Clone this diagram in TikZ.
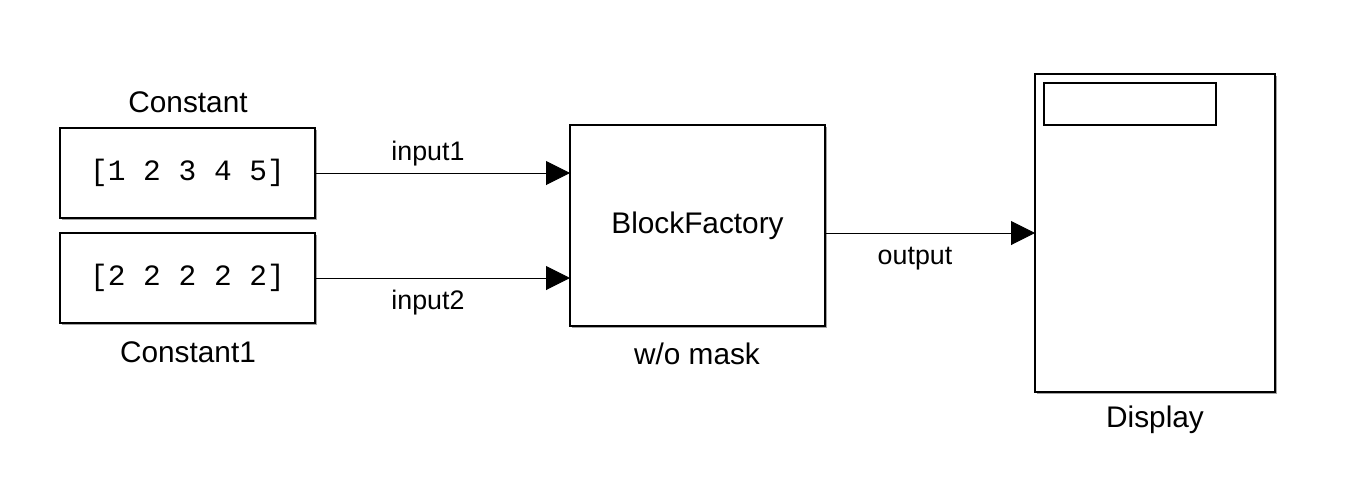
\documentclass[tikz,border=0pt]{standalone}
\usepackage{fontspec}
\setmainfont{Liberation Sans}
\setmonofont{Liberation Mono}
\usetikzlibrary{arrows.meta,shadows}
\begin{document}
\begin{tikzpicture}[x=0.5pt,y=-0.5pt,
  blk/.style={draw,line width=1pt,fill=white,rectangle,inner sep=0pt,outer sep=0pt,
    drop shadow={shadow xshift=1pt,shadow yshift=-1pt,fill=black!45,opacity=0.8}},
  bname/.style={font=\fontsize{14.9pt}{17pt}\selectfont,inner sep=0pt},
  lbl/.style={font=\fontsize{13.4pt}{16pt}\selectfont,inner sep=0pt},
  sig/.style={line width=0.5pt,-{Triangle[length=12pt,width=12pt]}}]
\useasboundingbox (0,0) rectangle (1346,488);
\node[blk,minimum width=127.5pt,minimum height=45pt,font=\ttfamily\fontsize{14.75pt}{17pt}\selectfont] (c1) at (187.5,173) {[1 2 3 4 5]};
\node[blk,minimum width=127.5pt,minimum height=45pt,font=\ttfamily\fontsize{14.75pt}{17pt}\selectfont] (c2) at (187.5,278) {[2 2 2 2 2]};
\node[blk,minimum width=127.5pt,minimum height=100.5pt,font=\fontsize{14.9pt}{17pt}\selectfont] (bf) at (697.5,225.5) {BlockFactory};
\node[blk,minimum width=120pt,minimum height=159pt] (disp) at (1155,233) {};
\node[draw,line width=0.6pt,rectangle,inner sep=0pt,minimum width=86pt,minimum height=21pt] (dbox) at (1130,104) {};
\coordinate (bfin1) at (bf.west |- c1.east);
\coordinate (bfin2) at (bf.west |- c2.east);
\coordinate (dispin) at (disp.west);
\coordinate (bfout) at (bf.east |- dispin);
\draw[sig] (c1.east) -- (bfin1);
\draw[sig] (c2.east) -- (bfin2);
\draw[sig] (bfout) -- (dispin);
\node[bname] (lc1) at (188,102) {Constant};
\node[bname] (lc2) at (188,352) {Constant1};
\node[bname] (lbf) at (697,354) {w/o mask};
\node[bname] (ld) at (1155,420) {Display};
\node[lbl] (li1) at (428,154) {input1};
\node[lbl] (li2) at (428,303) {input2};
\node[lbl] (lo) at (915,259) {output};
\end{tikzpicture}
\end{document}
